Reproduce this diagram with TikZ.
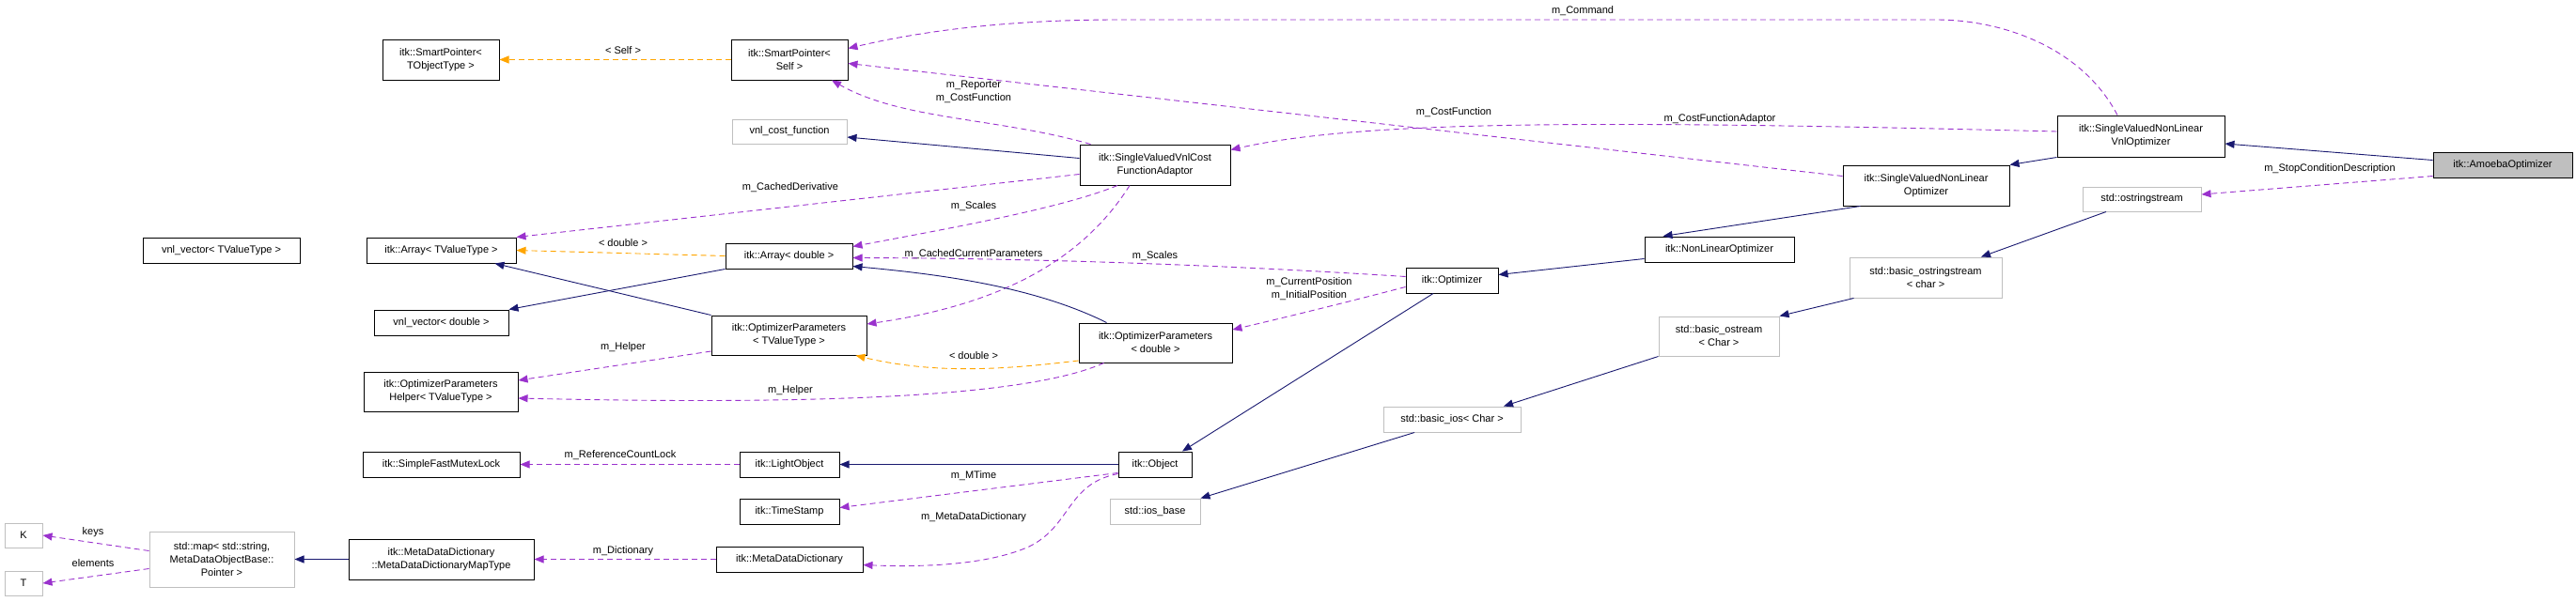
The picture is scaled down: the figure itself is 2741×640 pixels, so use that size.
\documentclass[tikz,border=0pt]{standalone}
\usepackage{fontspec}
\setmainfont{Liberation Sans}
\usetikzlibrary{arrows.meta,calc}
\definecolor{navy}{HTML}{191970}
\definecolor{purp}{HTML}{9A32CD}
\definecolor{orng}{HTML}{FFA500}
\definecolor{extgray}{HTML}{BFBFBF}
\tikzset{
 box/.style={draw=black, line width=1pt, rectangle, inner sep=0pt, align=center, font=\fontsize{11}{14}\selectfont},
 ext/.style={box, draw=extgray},
 lab/.style={inner sep=0.5pt, align=center, font=\fontsize{11}{14}\selectfont},
 tip/.style={-{Triangle[length=10pt,width=8pt]}},
 nav/.style={tip, draw=navy, line width=0.9pt},
 use/.style={tip, draw=purp, line width=0.9pt, dash pattern=on 6pt off 4pt},
 tpl/.style={tip, draw=orng, line width=0.9pt, dash pattern=on 6pt off 4pt},
}
\begin{document}
\begin{tikzpicture}[x=1pt,y=-1pt]
\useasboundingbox (0,0) rectangle (2741,640);
% nodes
\node[box, minimum width=124pt, minimum height=43pt] (sptobj) at (469,63.5) {itk::SmartPointer<\\ TObjectType >};
\node[box, minimum width=124pt, minimum height=43pt] (spself) at (840,63.5) {itk::SmartPointer<\\ Self >};
\node[ext, minimum width=122pt, minimum height=26pt] (vnlcost) at (840,140) {vnl\_cost\_function};
\node[box, minimum width=160pt, minimum height=43pt] (adaptor) at (1229,175.5) {itk::SingleValuedVnlCost\\ FunctionAdaptor};
\node[box, minimum width=167pt, minimum height=27pt] (vnlvT) at (235.5,266.5) {vnl\_vector< TValueType >};
\node[box, minimum width=159pt, minimum height=27pt] (arrT) at (469.5,266.5) {itk::Array< TValueType >};
\node[box, minimum width=135pt, minimum height=27pt] (arrD) at (839.5,272.5) {itk::Array< double >};
\node[box, minimum width=143pt, minimum height=27pt] (vnlvD) at (469.5,343.5) {vnl\_vector< double >};
\node[box, minimum width=165pt, minimum height=42pt] (opT) at (839.5,357) {itk::OptimizerParameters\\ < TValueType >};
\node[box, minimum width=163pt, minimum height=42pt] (opD) at (1229.5,365) {itk::OptimizerParameters\\ < double >};
\node[box, minimum width=164pt, minimum height=42pt] (helper) at (469,417) {itk::OptimizerParameters\\ Helper< TValueType >};
\node[box, minimum width=167pt, minimum height=27pt] (mutex) at (469.5,494.5) {itk::SimpleFastMutexLock};
\node[box, minimum width=106pt, minimum height=27pt] (light) at (840,494.5) {itk::LightObject};
\node[box, minimum width=78pt, minimum height=27pt] (object) at (1229,494.5) {itk::Object};
\node[box, minimum width=106pt, minimum height=27pt] (timestamp) at (840,544.5) {itk::TimeStamp};
\node[box, minimum width=156pt, minimum height=27pt] (mdd) at (840,595.5) {itk::MetaDataDictionary};
\node[box, minimum width=197pt, minimum height=43pt] (mapT) at (469.5,595.5) {itk::MetaDataDictionary\\ ::MetaDataDictionaryMapType};
\node[ext, minimum width=154pt, minimum height=59pt] (stdmap) at (236,595.5) {std::map< std::string,\\ MetaDataObjectBase::\\ Pointer >};
\node[ext, minimum width=40pt, minimum height=26pt] (K) at (25,570) {K};
\node[ext, minimum width=40pt, minimum height=26pt] (T) at (25,621) {T};
\node[box, minimum width=98pt, minimum height=27pt] (optimizer) at (1545,298.5) {itk::Optimizer};
\node[ext, minimum width=96pt, minimum height=27pt] (iosbase) at (1229,544.5) {std::ios\_base};
\node[ext, minimum width=146pt, minimum height=27pt] (basicios) at (1545,446.5) {std::basic\_ios< Char >};
\node[box, minimum width=159pt, minimum height=27pt] (nlo) at (1829.5,265.5) {itk::NonLinearOptimizer};
\node[box, minimum width=177pt, minimum height=43pt] (svnlo) at (2049.5,197.5) {itk::SingleValuedNonLinear\\ Optimizer};
\node[box, minimum width=178pt, minimum height=44pt] (vnlopt) at (2278,145) {itk::SingleValuedNonLinear\\ VnlOptimizer};
\node[box, fill=extgray, minimum width=148pt, minimum height=27pt] (amoeba) at (2663,175.5) {itk::AmoebaOptimizer};
\node[ext, minimum width=126pt, minimum height=26pt] (ostr) at (2279,212) {std::ostringstream};
\node[ext, minimum width=162pt, minimum height=43pt] (bostr) at (2049,295.5) {std::basic\_ostringstream\\ < char >};
\node[ext, minimum width=128pt, minimum height=42pt] (bostream) at (1829,358) {std::basic\_ostream\\ < Char >};
% edges
\draw[tpl] (spself.west) -- (sptobj.east);
\node[lab] (lself) at (663,54) {< Self >};
\draw[use] ($(vnlopt.north)+(-25,0)$) .. controls (2215,50) and (2130,21) .. (2060,21) -- (1190,21) .. controls (1050,21) and (960,38) .. ($(spself.east)+(0,-12)$);
\node[lab] (lcmd) at (1684,12) {m\_Command};
\draw[use] ($(svnlo.west)+(0,-10)$) -- ($(spself.east)+(0,4)$);
\node[lab] (lcf) at (1547,120) {m\_CostFunction};
\draw[use] ($(vnlopt.west)+(0,-5)$) .. controls (1700,128) and (1450,128) .. ($(adaptor.east)+(0,-16)$);
\node[lab] (lcfa) at (1830,127) {m\_CostFunctionAdaptor};
\draw[use] ($(adaptor.north west)+(12,0)$) .. controls (1060,125) and (960,128) .. ($(spself.south)+(45,0)$);
\node[lab] (lrep) at (1036,98) {m\_Reporter\\ m\_CostFunction};
\draw[nav] ($(adaptor.west)+(0,-7)$) -- ($(vnlcost.east)+(0,6)$);
\draw[use] ($(adaptor.west)+(0,10)$) -- (arrT.north east);
\node[lab] (lcd) at (841,200) {m\_CachedDerivative};
\draw[use] ($(adaptor.south)+(-40,0)$) .. controls (1130,222) and (1000,245) .. ($(arrD.east)+(0,-10)$);
\node[lab] (lsc1) at (1036,220) {m\_Scales};
\draw[use] ($(adaptor.south)+(-27,0)$) .. controls (1150,280) and (1060,325) .. ($(opT.east)+(0,-12)$);
\node[lab] (lccp) at (1036,271) {m\_CachedCurrentParameters};
\draw[use] ($(optimizer.west)+(0,-4)$) .. controls (1300,282) and (1100,275) .. ($(arrD.east)+(0,2)$);
\node[lab] (lsc2) at (1229,273) {m\_Scales};
\draw[use] ($(optimizer.west)+(0,7)$) .. controls (1440,320) and (1380,335) .. ($(opD.east)+(0,-14)$);
\node[lab] (lcp) at (1393,308) {m\_CurrentPosition\\ m\_InitialPosition};
\draw[tpl] (arrD.west) -- (arrT.east);
\node[lab] (ld1) at (663,259) {< double >};
\draw[nav] (arrD.south west) -- (vnlvD.north east);
\draw[nav] (opT.north west) -- ($(arrT.south)+(57,0)$);
\draw[nav] ($(opD.north)+(-52,0)$) .. controls (1100,305) and (1000,292) .. ($(arrD.east)+(0,11)$);
\draw[tpl] ($(opD.west)+(0,19)$) .. controls (1080,392) and (1000,400) .. ($(opT.south east)+(-12,0)$);
\node[lab] (ld2) at (1036,379) {< double >};
\draw[use] ($(opT.west)+(0,17)$) -- ($(helper.east)+(0,-12)$);
\node[lab] (lh1) at (663,370) {m\_Helper};
\draw[use] ($(opD.south)+(-55,0)$) .. controls (1100,420) and (900,432) .. ($(helper.east)+(0,7)$);
\node[lab] (lh2) at (841,416) {m\_Helper};
\draw[use] (light.west) -- (mutex.east);
\node[lab] (lrcl) at (660,485) {m\_ReferenceCountLock};
\draw[nav] (object.west) -- (light.east);
\draw[nav] ($(optimizer.south)+(-20,0)$) -- ($(object.north)+(29,0)$);
\draw[use] ($(object.west)+(0,9)$) -- ($(timestamp.east)+(0,-4)$);
\node[lab] (lmt) at (1036,507) {m\_MTime};
\draw[use] ($(object.west)+(0,10)$) .. controls (1135,515) and (1140,560) .. (1095,582) .. controls (1050,602) and (980,604) .. ($(mdd.east)+(0,6)$);
\node[lab] (lmdd) at (1036,551) {m\_MetaDataDictionary};
\draw[use] (mdd.west) -- (mapT.east);
\node[lab] (ldic) at (663,587) {m\_Dictionary};
\draw[nav] (mapT.west) -- (stdmap.east);
\draw[use] ($(stdmap.west)+(0,-9)$) -- (K.east);
\node[lab] (lkeys) at (99,567) {keys};
\draw[use] ($(stdmap.west)+(0,10)$) -- (T.east);
\node[lab] (lel) at (99,600) {elements};
\draw[nav] ($(svnlo.south)+(-70,0)$) -- ($(nlo.north)+(-60,0)$);
\draw[nav] ($(nlo.west)+(0,10)$) -- ($(optimizer.east)+(0,-6)$);
\draw[nav] (vnlopt.south west) -- (svnlo.north east);
\draw[nav] ($(amoeba.west)+(0,-5)$) -- ($(vnlopt.east)+(0,8)$);
\draw[use] ($(amoeba.south west)+(0,-2)$) -- ($(ostr.east)+(0,-5)$);
\node[lab] (lstop) at (2479,180) {m\_StopConditionDescription};
\draw[nav] ($(ostr.south)+(-38,0)$) -- ($(bostr.north)+(59,0)$);
\draw[nav] ($(bostr.south west)+(5,0)$) -- (bostream.north east);
\draw[nav] (bostream.south west) -- ($(basicios.north)+(55,0)$);
\draw[nav] ($(basicios.south)+(-40,0)$) -- (iosbase.north east);
\end{tikzpicture}
\end{document}
